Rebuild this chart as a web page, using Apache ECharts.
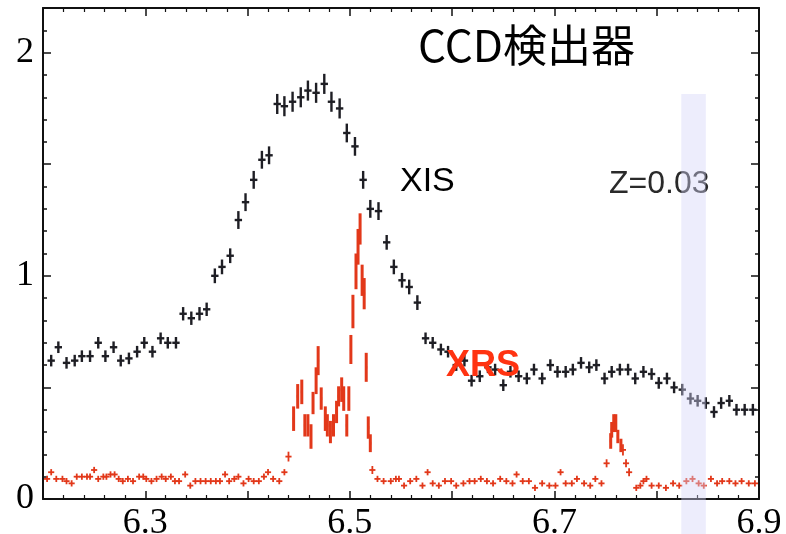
<!DOCTYPE html>
<html>
<head>
<meta charset="utf-8">
<script src="https://cdn.jsdelivr.net/npm/echarts@6/dist/echarts.min.js"></script>
<style>html,body{margin:0;padding:0;background:#fff}#c{width:786px;height:534px}</style>
</head>
<body>
<div id="c"></div>
<script>
// ---------- DATA ----------
const xisEnergy = [6.208,6.215,6.223,6.231,6.238,6.246,6.254,6.261,6.269,6.276,
6.284,6.292,6.299,6.307,6.315,6.322,6.330,6.337,6.345,6.353,
6.360,6.368,6.375,6.383,6.391,6.398,6.406,6.414,6.421,6.429,
6.436,6.444,6.452,6.459,6.467,6.475,6.482,6.490,6.497,6.505,
6.513,6.520,6.528,6.536,6.543,6.551,6.558,6.566,6.574,6.581,
6.589,6.596,6.604,6.612,6.619,6.627,6.635,6.642,6.650,6.657,
6.665,6.673,6.680,6.688,6.696,6.703,6.711,6.718,6.726,6.734,
6.741,6.749,6.756,6.764,6.772,6.779,6.787,6.795,6.802,6.810,
6.817,6.825,6.833,6.840,6.848,6.856,6.863,6.871,6.878,6.886,
6.894];
const xisValue = [0.62,0.68,0.61,0.62,0.64,0.64,0.70,0.64,0.68,0.62,
0.63,0.66,0.70,0.66,0.72,0.70,0.70,0.83,0.81,0.83,
0.85,1.00,1.04,1.09,1.25,1.33,1.43,1.52,1.54,1.77,
1.76,1.78,1.80,1.83,1.82,1.86,1.78,1.75,1.64,1.58,
1.43,1.30,1.29,1.15,1.04,0.98,0.95,0.88,0.72,0.70,
0.67,0.66,0.60,0.62,0.53,0.55,0.59,0.58,0.51,0.57,
0.55,0.54,0.58,0.54,0.60,0.57,0.57,0.58,0.61,0.59,
0.60,0.54,0.57,0.58,0.58,0.54,0.57,0.56,0.52,0.54,
0.50,0.49,0.45,0.44,0.43,0.39,0.43,0.44,0.40,0.40,
0.40];
const xisError = [0.026,0.026,0.026,0.026,0.026,0.026,0.026,0.026,0.026,0.026,
0.026,0.026,0.026,0.026,0.026,0.026,0.026,0.030,0.030,0.030,
0.030,0.033,0.033,0.033,0.040,0.040,0.040,0.040,0.040,0.045,
0.045,0.045,0.045,0.045,0.045,0.045,0.045,0.045,0.042,0.042,
0.040,0.040,0.040,0.033,0.033,0.033,0.033,0.033,0.026,0.026,
0.026,0.026,0.026,0.026,0.026,0.026,0.026,0.026,0.026,0.026,
0.026,0.026,0.026,0.026,0.026,0.026,0.026,0.026,0.026,0.026,
0.026,0.026,0.026,0.026,0.026,0.026,0.026,0.026,0.026,0.026,
0.026,0.026,0.026,0.026,0.026,0.026,0.026,0.026,0.026,0.026,
0.026];

const xrsEnergy = [6.204,6.208,6.213,6.219,6.223,6.228,6.233,6.238,6.243,6.246,
6.250,6.254,6.259,6.262,6.266,6.270,6.274,6.278,6.283,6.288,
6.294,6.298,6.301,6.306,6.311,6.316,6.320,6.325,6.329,6.333,
6.339,6.344,6.349,6.354,6.359,6.364,6.369,6.373,6.378,6.382,
6.387,6.391,6.396,6.401,6.406,6.411,6.416,6.420,6.425,6.431,
6.436,6.440,
6.445,6.449,6.453,6.456,6.459,6.462,6.464,6.467,6.469,6.472,
6.476,6.478,6.481,6.484,6.487,6.489,6.492,6.494,6.497,6.499,
6.501,6.503,6.506,6.508,6.510,6.512,6.514,6.516,6.518,6.520,6.522,
6.527,6.533,6.540,6.545,6.548,6.553,6.559,6.565,6.571,6.576,
6.581,6.587,6.593,6.599,6.604,6.611,6.617,6.622,6.628,6.634,
6.640,6.647,6.653,6.659,6.663,6.669,6.675,6.681,6.688,6.695,
6.701,6.706,6.711,6.717,6.722,6.729,6.735,6.740,6.746,6.751,
6.755,6.756,6.758,6.760,6.762,6.765,6.767,6.770,6.773,
6.780,6.784,6.787,6.790,6.795,6.802,6.809,6.816,6.822,6.829,
6.835,6.841,6.846,6.853,6.859,6.864,6.871,6.877,6.883,6.890,6.896];
const xrsValue = [0.09,0.12,0.09,0.09,0.08,0.07,0.10,0.10,0.10,0.10,
0.13,0.09,0.10,0.10,0.11,0.11,0.09,0.08,0.09,0.08,
0.10,0.10,0.09,0.08,0.09,0.10,0.09,0.10,0.08,0.08,
0.11,0.06,0.08,0.08,0.08,0.08,0.08,0.08,0.11,0.08,
0.09,0.10,0.07,0.09,0.08,0.08,0.10,0.12,0.09,0.08,
0.12,0.19,
0.36,0.46,0.48,0.33,0.33,0.28,0.43,0.53,0.62,0.45,
0.36,0.33,0.30,0.33,0.39,0.46,0.49,0.45,0.33,0.45,
0.67,0.84,1.02,1.13,1.21,0.98,0.92,0.59,0.32,0.25,0.13,
0.09,0.08,0.08,0.09,0.09,0.06,0.08,0.09,0.06,0.12,
0.07,0.06,0.08,0.08,0.06,0.07,0.08,0.08,0.09,0.08,
0.07,0.09,0.08,0.07,0.11,0.08,0.08,0.05,0.07,0.06,
0.06,0.12,0.07,0.07,0.09,0.07,0.06,0.09,0.07,0.16,
0.26,0.31,0.34,0.34,0.28,0.24,0.22,0.16,0.12,
0.05,0.06,0.08,0.09,0.06,0.06,0.05,0.07,0.06,0.08,
0.09,0.07,0.06,0.09,0.07,0.08,0.08,0.07,0.08,0.07,0.07];
const xrsError = [0.014,0.014,0.014,0.014,0.014,0.014,0.014,0.014,0.014,0.014,
0.014,0.014,0.014,0.014,0.014,0.014,0.014,0.014,0.014,0.014,
0.014,0.014,0.014,0.014,0.014,0.014,0.014,0.014,0.014,0.014,
0.014,0.014,0.014,0.014,0.014,0.014,0.014,0.014,0.014,0.014,
0.014,0.014,0.014,0.014,0.014,0.014,0.014,0.014,0.014,0.014,
0.014,0.022,
0.055,0.055,0.055,0.05,0.05,0.055,0.05,0.06,0.065,0.05,
0.055,0.05,0.05,0.05,0.05,0.045,0.055,0.055,0.05,0.055,
0.065,0.075,0.08,0.08,0.07,0.07,0.07,0.065,0.05,0.04,0.018,
0.014,0.014,0.014,0.014,0.014,0.014,0.014,0.014,0.014,0.014,
0.014,0.014,0.014,0.014,0.014,0.014,0.014,0.014,0.014,0.014,
0.014,0.014,0.014,0.014,0.014,0.014,0.014,0.014,0.014,0.014,
0.014,0.014,0.014,0.014,0.014,0.014,0.014,0.014,0.014,0.018,
0.035,0.035,0.04,0.04,0.03,0.03,0.025,0.018,0.018,
0.014,0.014,0.014,0.014,0.014,0.014,0.014,0.014,0.014,0.014,
0.014,0.014,0.014,0.014,0.014,0.014,0.014,0.014,0.014,0.014,0.014];

const xTickLabels = ['6.3','6.5','6.7','6.9'];
const yTickLabels = ['0','1','2'];
const bandStart = 6.824, bandEnd = 6.848, bandTop = 1.815;

// ---------- CHART ----------
const chart = echarts.init(document.getElementById('c'), null, {renderer:'canvas'});
const XIS_COLOR = '#1e1e24', XRS_COLOR = '#e2381a';

function crossRender(color, lw, hwBig, hwSmall, isXrs) {
  return function (params, api) {
    const x = api.value(0), y = api.value(1), ey = api.value(2);
    const peak = isXrs && ey > 0.025;
    const hw = peak ? hwSmall : hwBig;
    const w = isXrs ? (peak ? 3 : 1.8) : lw;
    const p0 = api.coord([x - hw, y]), p1 = api.coord([x + hw, y]);
    const q0 = api.coord([x, y - ey]), q1 = api.coord([x, y + ey]);
    return {type:'group', children:[
      {type:'line', shape:{x1:p0[0],y1:p0[1],x2:p1[0],y2:p1[1]}, style:{stroke:color, lineWidth:w}},
      {type:'line', shape:{x1:q0[0],y1:q0[1],x2:q1[0],y2:q1[1]}, style:{stroke:color, lineWidth:w}}
    ]};
  };
}

const xisData = xisEnergy.map((e,i)=>[e, xisValue[i], xisError[i]]);
const xrsData = xrsEnergy.map((e,i)=>[e, xrsValue[i], xrsError[i]]);

const axisColor = '#111';
function xAx(pos, showLabel) {
  return {
    type:'value', position:pos, min:6.2, max:6.9, interval:0.1,
    axisLine:{show:true, onZero:false, lineStyle:{color:axisColor, width:2}},
    axisTick:{show:true, inside:true, length:8, lineStyle:{color:axisColor, width:1.5}},
    minorTick:{show:true, splitNumber:5, length:4, lineStyle:{color:axisColor, width:1.2}},
    splitLine:{show:false}, minorSplitLine:{show:false},
    axisLabel:{show:showLabel, margin:7, color:'#000', fontFamily:'Liberation Serif', fontSize:36,
      showMinLabel:true, showMaxLabel:true, hideOverlap:false,
      formatter:function(v){ const s=(Math.round(v*10)/10).toFixed(1); return xTickLabels.indexOf(s)>=0?s:''; }}
  };
}
function yAx(pos, interval, len, showLine, showLabel) {
  return {
    type:'value', position:pos, min:0, max:2.2, interval:interval,
    axisLine:{show:showLine, onZero:false, lineStyle:{color:axisColor, width:2}},
    axisTick:{show:true, inside:true, length:len, lineStyle:{color:axisColor, width:1.5}},
    splitLine:{show:false},
    axisLabel:{show:showLabel, margin:9, color:'#000', fontFamily:'Liberation Serif', fontSize:36,
      formatter:function(v){ const s=String(Math.round(v*10)/10); return yTickLabels.indexOf(s)>=0?s:''; }}
  };
}

chart.setOption({
  animation:false,
  backgroundColor:'#fff',
  grid:{left:43, right:27, top:8, bottom:35, containLabel:false, outerBoundsMode:'none'},
  xAxis:[xAx('bottom', true), xAx('top', false)],
  yAxis:[yAx('left',0.5,8,true,true), yAx('left',0.1,4,false,false), yAx('right',0.5,8,true,false), yAx('right',0.1,4,false,false)],
  series:[
    {type:'custom', name:'XRS', xAxisIndex:0, yAxisIndex:0, renderItem:crossRender(XRS_COLOR, 2.4, 0.003, 0.0009, true), data:xrsData, z:2, clip:true},
    {type:'custom', name:'XIS', xAxisIndex:0, yAxisIndex:0, renderItem:crossRender(XIS_COLOR, 2.4, 0.0036, 0.0036, false), data:xisData, z:3, clip:true}
  ]
});

const pTL = chart.convertToPixel({xAxisIndex:0, yAxisIndex:0}, [bandStart, bandTop]);
const pBR = chart.convertToPixel({xAxisIndex:0, yAxisIndex:0}, [bandEnd, 0]);

chart.setOption({
  graphic:[
    {type:'text', left:418, top:23, z:50, style:{text:'CCD検出器', fontFamily:'Noto Sans CJK JP', fontSize:44, fill:'#000'}},
    {type:'text', left:400, top:165, z:50, style:{text:'XIS', fontFamily:'Liberation Sans', fontSize:34, fill:'#000'}},
    {type:'text', left:609, top:168, z:50, style:{text:'Z=0.03', fontFamily:'Liberation Sans', fontSize:32, fill:'#2a2a2a'}},
    {type:'rect', z:100, shape:{x:pTL[0], y:pTL[1], width:pBR[0]-pTL[0], height:534-pTL[1]},
      style:{fill:'rgba(212,212,247,0.42)'}},
    {type:'text', left:446, top:348, z:120, style:{text:'XRS', fontFamily:'Liberation Sans', fontWeight:'bold', fontSize:36, fill:'#ff3311'}}
  ]
});
</script>
</body>
</html>
